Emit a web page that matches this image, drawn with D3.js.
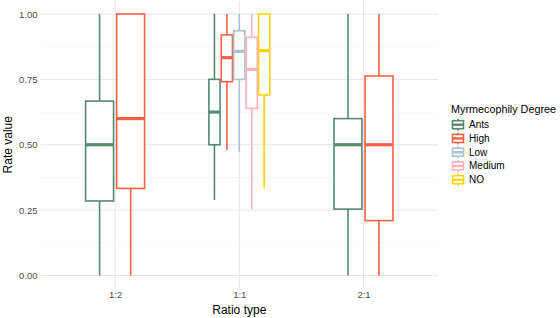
<!DOCTYPE html>
<html>
<head>
<meta charset="utf-8">
<script src="https://cdn.jsdelivr.net/npm/d3@7"></script>
<style>
  body { margin: 0; background: #fff; }
  svg { font-family: "Liberation Sans", Arial, sans-serif; }
</style>
</head>
<body>
<svg id="chart"></svg>
<script>
let w = 560;
let h = 318;

// categories
let ratioTypes = ["1:2", "1:1", "2:1"];
let degrees = ["Ants", "High", "Low", "Medium", "NO"];
let degreeColors = ["#548a72", "#fa6144", "#a8c3cf", "#ffb3bd", "#ffd400"];
let yTicks = [0, 0.25, 0.5, 0.75, 1];

// box stats, one entry per box
let boxRatio   = ["1:2", "1:2", "1:1", "1:1", "1:1", "1:1", "1:1", "2:1", "2:1"];
let boxDegree  = ["Ants", "High", "Ants", "High", "Low", "Medium", "NO", "Ants", "High"];
let whiskerLow = [0, 0, 0.289, 0.48, 0.473, 0.253, 0.333, 0, 0];
let q1         = [0.285, 0.333, 0.5, 0.741, 0.75, 0.639, 0.69, 0.254, 0.21];
let median     = [0.5, 0.6, 0.625, 0.833, 0.857, 0.788, 0.86, 0.5, 0.5];
let q3         = [0.667, 1, 0.75, 0.92, 0.936, 0.911, 1, 0.6, 0.763];
let whiskerHigh = [1, 1, 1, 1, 1, 1, 1, 1, 1];

let boxes = boxRatio.map((r, i) => ({
  ratio: r, degree: boxDegree[i],
  lo: whiskerLow[i], q1: q1[i], med: median[i], q3: q3[i], hi: whiskerHigh[i]
}));

let panelLeft = 40.6, panelRight = 438;
let svg = d3.select("#chart").attr("width", w).attr("height", h);

let xScale = d3.scalePoint().domain(ratioTypes).range([panelLeft, panelRight]).padding(0.6);
let yScale = d3.scaleLinear().domain([0, 1]).range([275.5, 14]);
let cScale = d3.scaleOrdinal().domain(degrees).range(degreeColors);

let panelTop = yScale(1.05), panelBottom = yScale(-0.05);

// gridlines
let minorTicks = [0.125, 0.375, 0.625, 0.875];
svg.append("g").selectAll("line").data(minorTicks).enter().append("line")
  .attr("x1", panelLeft).attr("x2", panelRight)
  .attr("y1", d => yScale(d)).attr("y2", d => yScale(d))
  .attr("stroke", "#f2f2f2").attr("stroke-width", 0.6);
svg.append("g").selectAll("line").data(yTicks).enter().append("line")
  .attr("x1", panelLeft).attr("x2", panelRight)
  .attr("y1", d => yScale(d)).attr("y2", d => yScale(d))
  .attr("stroke", "#e6e6e6").attr("stroke-width", 1);
svg.append("g").selectAll("line").data(ratioTypes).enter().append("line")
  .attr("x1", d => xScale(d)).attr("x2", d => xScale(d))
  .attr("y1", panelTop).attr("y2", panelBottom)
  .attr("stroke", "#e6e6e6").attr("stroke-width", 1);

// dodge: total width 0.5 of a step, each box 90% of its slot
let step = xScale.step();
function boxPos(b) {
  let present = boxes.filter(d => d.ratio === b.ratio).map(d => d.degree);
  let inner = d3.scaleBand().domain(present)
    .range([xScale(b.ratio) - step * 0.25, xScale(b.ratio) + step * 0.25]);
  let slot = inner.bandwidth();
  return { x: inner(b.degree) + slot * 0.05, width: slot * 0.9, cx: inner(b.degree) + slot / 2 };
}

let g = svg.append("g").selectAll("g").data(boxes).enter().append("g")
  .attr("stroke", d => cScale(d.degree)).attr("fill", "none");
g.append("line")
  .attr("x1", d => boxPos(d).cx).attr("x2", d => boxPos(d).cx)
  .attr("y1", d => yScale(d.hi)).attr("y2", d => yScale(d.q3))
  .attr("stroke-width", 1.6);
g.append("line")
  .attr("x1", d => boxPos(d).cx).attr("x2", d => boxPos(d).cx)
  .attr("y1", d => yScale(d.q1)).attr("y2", d => yScale(d.lo))
  .attr("stroke-width", 1.6);
g.append("rect")
  .attr("x", d => boxPos(d).x).attr("width", d => boxPos(d).width)
  .attr("y", d => yScale(d.q3)).attr("height", d => yScale(d.q1) - yScale(d.q3))
  .attr("fill", "#fff").attr("stroke-width", 1.6);
g.append("line")
  .attr("x1", d => boxPos(d).x).attr("x2", d => boxPos(d).x + boxPos(d).width)
  .attr("y1", d => yScale(d.med)).attr("y2", d => yScale(d.med))
  .attr("stroke-width", 3.2);

// axes (text only, theme_minimal)
let xAxis = d3.axisBottom(xScale).tickSize(0).tickPadding(0);
let xAxisGroup = svg.append("g").attr("transform", `translate(0,${panelBottom + 3})`).call(xAxis);
xAxisGroup.select(".domain").remove();
xAxisGroup.selectAll("text").attr("font-size", 9.5).attr("fill", "#4d4d4d")
  .attr("font-family", "Liberation Sans, Arial, sans-serif").attr("dy", "0.71em");

let yAxis = d3.axisLeft(yScale).tickValues(yTicks).tickFormat(d3.format(".2f")).tickSize(0).tickPadding(0);
let yAxisGroup = svg.append("g").attr("transform", `translate(${panelLeft - 3},0)`).call(yAxis);
yAxisGroup.select(".domain").remove();
yAxisGroup.selectAll("text").attr("font-size", 9.5).attr("fill", "#4d4d4d")
  .attr("font-family", "Liberation Sans, Arial, sans-serif");

svg.append("text").attr("x", (panelLeft + panelRight) / 2).attr("y", 314)
  .attr("text-anchor", "middle").attr("font-size", 12).text("Ratio type");
svg.append("text").attr("transform", `translate(12,${(panelTop + panelBottom) / 2}) rotate(-90)`)
  .attr("text-anchor", "middle").attr("font-size", 12).text("Rate value");

// legend
let legend = svg.append("g").attr("transform", "translate(451,0)");
legend.append("text").attr("x", 0).attr("y", 113).attr("font-size", 11)
  .attr("textLength", 105).attr("lengthAdjust", "spacingAndGlyphs").text("Myrmecophily Degree");
let rowY = d3.scalePoint().domain(degrees).range([124.7, 179.7]);
let key = legend.selectAll("g.key").data(degrees).enter().append("g")
  .attr("class", "key").attr("transform", d => `translate(0,${rowY(d)})`)
  .attr("stroke", d => cScale(d)).attr("fill", "none");
key.append("line").attr("x1", 7).attr("x2", 7).attr("y1", -6).attr("y2", 6).attr("stroke-width", 1.6);
key.append("rect").attr("x", 1.5).attr("y", -4).attr("width", 11).attr("height", 8)
  .attr("fill", "#fff").attr("stroke-width", 1.6);
key.append("line").attr("x1", 1.5).attr("x2", 12.5).attr("y1", 0).attr("y2", 0).attr("stroke-width", 2.4);
legend.selectAll("text.lab").data(degrees).enter().append("text").attr("class", "lab")
  .attr("x", 18).attr("y", d => rowY(d)).attr("dy", "0.35em").attr("font-size", 10)
  .text(d => d);
</script>
</body>
</html>
